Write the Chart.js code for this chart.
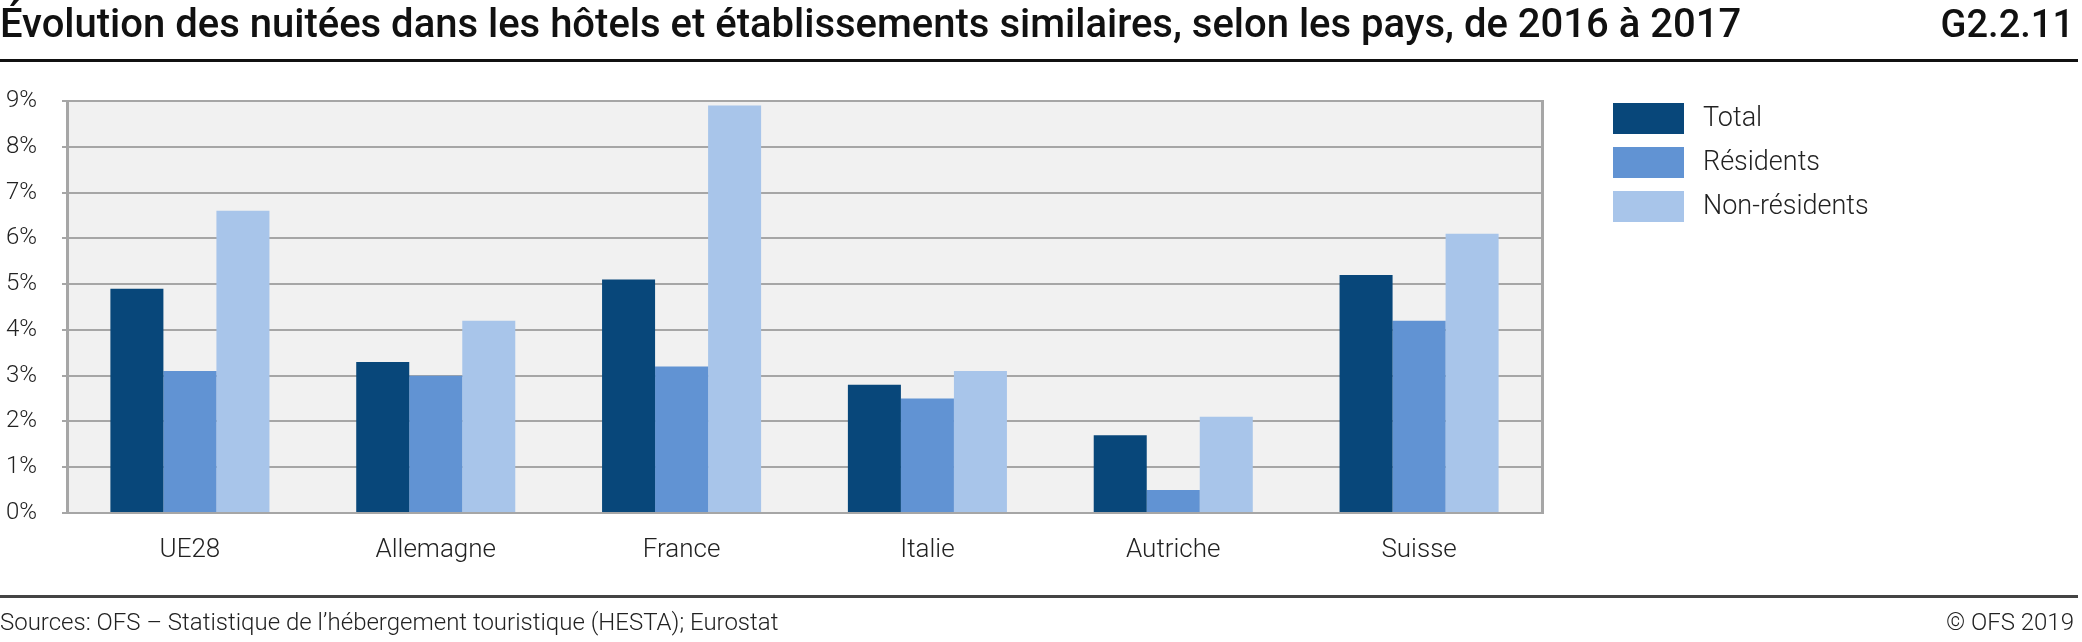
<!DOCTYPE html>
<html>
<head>
<meta charset="utf-8">
<title>Évolution des nuitées</title>
<script src="https://cdn.jsdelivr.net/npm/chart.js"></script>
<style>
  html, body { margin: 0; padding: 0; background: #fff; }
  body { width: 2082px; height: 642px; position: relative; overflow: hidden; font-family: Roboto, sans-serif; }
  #wrap { position: absolute; left: 0; top: 0; width: 2082px; height: 642px; }
  .title { position: absolute; left: 0; top: 0; font-size: 40px; font-weight: 500; color: #111; white-space: nowrap; line-height: 48px; }
  .code { position: absolute; right: 8px; top: 0; font-size: 38px; font-weight: 500; color: #111; line-height: 48px; }
  .rule-top { position: absolute; left: 0; top: 59px; width: 2078px; height: 3px; background: #111; }
  .rule-bottom { position: absolute; left: 0; top: 595px; width: 2078px; height: 3px; background: #444; }
  .source { position: absolute; left: 0; top: 608px; font-size: 24px; font-weight: 300; color: #222; white-space: nowrap; }
  .copy { position: absolute; right: 8px; top: 608px; font-size: 24px; font-weight: 300; color: #222; }
</style>
</head>
<body>
<div id="wrap"><canvas id="myChart" width="2082" height="642"></canvas></div>
<div class="title">Évolution des nuitées dans les hôtels et établissements similaires, selon les pays, de 2016 à 2017</div>
<div class="code">G2.2.11</div>
<div class="rule-top"></div>
<div class="rule-bottom"></div>
<div class="source">Sources: OFS – Statistique de l’hébergement touristique (HESTA); Eurostat</div>
<div class="copy">© OFS 2019</div>
<script>
  const categories = ['UE28', 'Allemagne', 'France', 'Italie', 'Autriche', 'Suisse'];
  const total = [4.9, 3.3, 5.1, 2.8, 1.7, 5.2];
  const residents = [3.1, 3.0, 3.2, 2.5, 0.5, 4.2];
  const nonResidents = [6.6, 4.2, 8.9, 3.1, 2.1, 6.1];
  const seriesNames = ['Total', 'Résidents', 'Non-résidents'];
  const colors = ['#08477a', '#6193d3', '#a8c5ea'];
  const yTicks = [0, 1, 2, 3, 4, 5, 6, 7, 8, 9];

  const gridColor = '#a6a6a6';

  // plot background, right border and a hand placed legend
  const framePlugin = {
    id: 'frame',
    beforeDraw(chart) {
      const { ctx, chartArea: a } = chart;
      ctx.save();
      ctx.fillStyle = '#f1f1f1';
      ctx.fillRect(a.left, a.top, a.right - a.left, a.bottom - a.top);
      ctx.restore();
    },
    afterDraw(chart) {
      const { ctx, chartArea: a } = chart;
      ctx.save();
      ctx.strokeStyle = gridColor;
      ctx.lineWidth = 3;
      ctx.beginPath();
      ctx.moveTo(a.right + 0.5, a.top - 1);
      ctx.lineTo(a.right + 0.5, a.bottom + 1);
      ctx.stroke();

      ctx.font = '300 27px Roboto';
      ctx.textBaseline = 'middle';
      chart.data.datasets.forEach((ds, i) => {
        const y = 103 + i * 44;
        ctx.fillStyle = ds.backgroundColor;
        ctx.fillRect(1613, y, 71, 31);
        ctx.fillStyle = '#222';
        ctx.fillText(ds.label, 1703, y + 16);
      });
      ctx.restore();
    }
  };

  const ctx = document.getElementById('myChart').getContext('2d');
  const myChart = new Chart(ctx, {
    type: 'bar',
    data: {
      labels: categories,
      datasets: [
        { label: seriesNames[0], data: total, backgroundColor: colors[0] },
        { label: seriesNames[1], data: residents, backgroundColor: colors[1] },
        { label: seriesNames[2], data: nonResidents, backgroundColor: colors[2] }
      ]
    },
    options: {
      responsive: false,
      animation: false,
      devicePixelRatio: 1,
      layout: { padding: { top: 101, right: 540, left: 0, bottom: 0 } },
      datasets: { bar: { barPercentage: 1, categoryPercentage: 0.647 } },
      plugins: {
        legend: { display: false },
        tooltip: { enabled: false }
      },
      scales: {
        x: {
          grid: { display: false },
          border: { display: false },
          ticks: { color: '#222', font: { family: 'Roboto', size: 26, weight: 300 }, padding: 14 },
          afterFit(scale) { scale.height = 129; }
        },
        y: {
          min: 0,
          max: 9,
          afterBuildTicks(scale) { scale.ticks = yTicks.map(v => ({ value: v })); },
          grid: { color: gridColor, lineWidth: 2, tickLength: 5 },
          border: { color: gridColor, width: 3 },
          ticks: {
            color: '#222',
            padding: 25,
            font: { family: 'Roboto', size: 24, weight: 300 },
            callback: v => v + '%'
          },
          afterFit(scale) { scale.width = 67; }
        }
      }
    },
    plugins: [framePlugin]
  });
</script>
</body>
</html>
